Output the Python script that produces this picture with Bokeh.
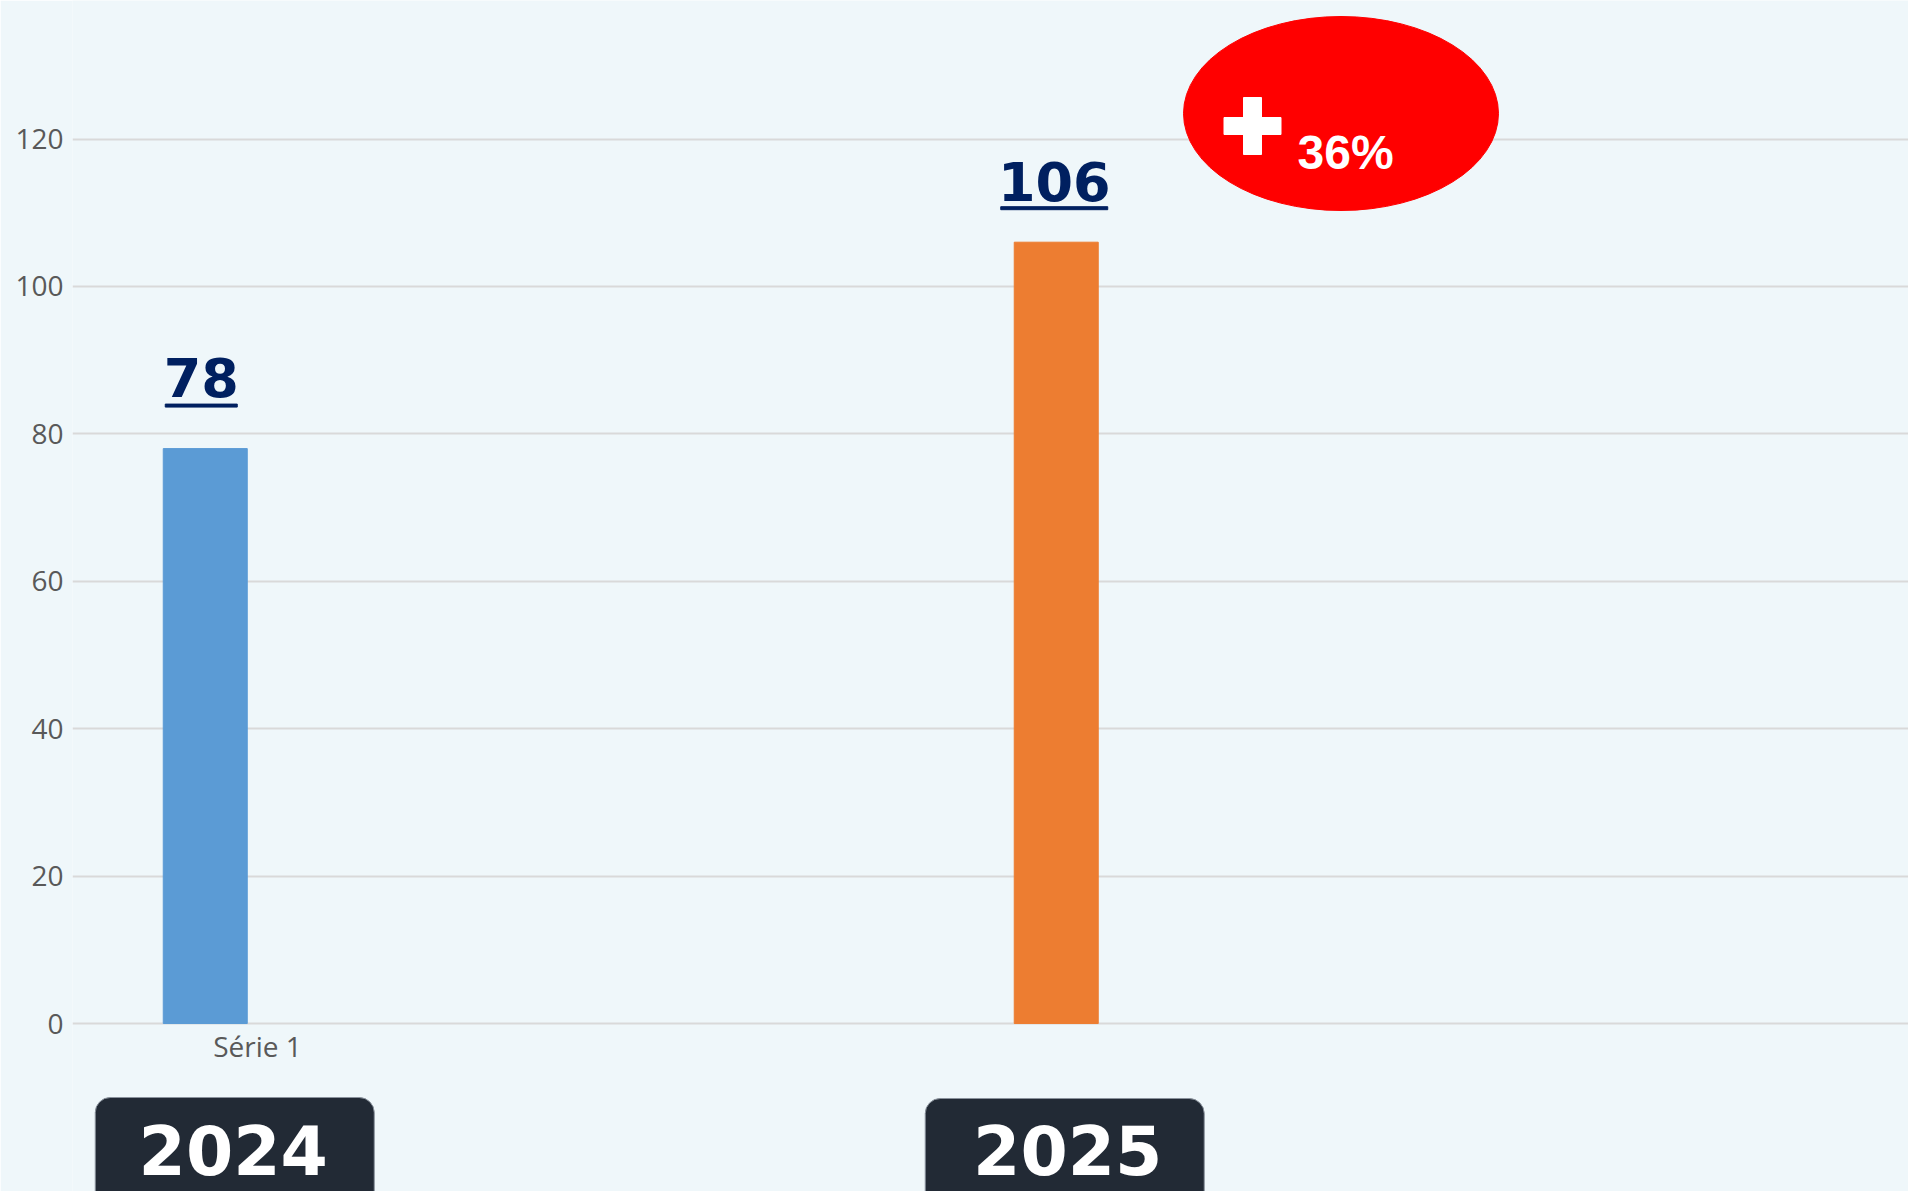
from bokeh.plotting import figure
from bokeh.models import Range1d, FixedTicker, ColumnDataSource
from bokeh.core.properties import value
from bokeh.embed import file_html
from bokeh.resources import INLINE

# ---- data ----
years = ["2024", "2025"]
counts = [78, 106]
series_name = "Série 1"
growth_label = "36%"
y_ticks = [0, 20, 40, 60, 80, 100, 120]

# ---- styles ----
bar_colors = ["#5B9BD5", "#ED7D31"]
label_dx_px = [-4, -2]           # horizontal shift of value labels
label_mid_px = [71, 61]          # label centre height above bar top
uline_px = [43, 34]              # underline height above bar top
uline_w = [72, 107]
box_dx_px = [29.5, 8.5]          # year box shift from bar centre
text_dx_px = [28, 11.5]          # year text shift from bar centre

BG = "#EFF7FA"
FIG_W, FIG_H = 1908, 1191
LEFT = 72
Y0, Y1 = -22.79, 138.79
X0, X1 = 0.344, 2.5015
PXY = FIG_H / (Y1 - Y0)
PXX = (FIG_W - LEFT) / (X1 - X0)


def px_x(px):
    return X0 + (px - LEFT) / PXX


def px_y(py):
    return Y1 - py / PXY


xs = [i + 0.5 for i in range(len(years))]

p = figure(width=FIG_W, height=FIG_H, x_range=Range1d(X0, X1), y_range=Range1d(Y0, Y1),
           output_backend="svg", toolbar_location=None, x_axis_location=None,
           min_border=0, min_border_left=LEFT)
p.background_fill_color = BG
p.border_fill_color = BG
p.outline_line_color = None

# axis & grid
p.yaxis.ticker = FixedTicker(ticks=y_ticks)
p.ygrid.ticker = FixedTicker(ticks=y_ticks)
p.yaxis.axis_line_color = None
p.yaxis.major_tick_line_color = None
p.yaxis.minor_tick_line_color = None
p.yaxis.major_tick_out = 0
p.yaxis.major_tick_in = 0
p.yaxis.minor_tick_out = 0
p.yaxis.major_label_standoff = 9
p.yaxis.major_label_text_font = "Open Sans"
p.yaxis.major_label_text_font_size = "28px"
p.yaxis.major_label_text_color = "#595959"
p.xgrid.visible = False
p.ygrid.grid_line_color = "#D9D9D9"
p.ygrid.grid_line_width = 2

# bars
p.vbar(x=xs, top=counts, width=84 / PXX, color=bar_colors)

# value labels
lab = ColumnDataSource(dict(
    x=[x + d / PXX for x, d in zip(xs, label_dx_px)],
    y=[v + o / PXY for v, o in zip(counts, label_mid_px)],
    uy=[v + o / PXY for v, o in zip(counts, uline_px)],
    uw=uline_w,
    t=[str(v) for v in counts],
))
p.text(x="x", y="y", text="t", source=lab, text_font=value("DejaVu Sans"),
       text_font_style="bold", text_font_size="54px", text_align="center",
       text_baseline="middle", text_color="#002060")
p.rect(x="x", y="uy", width="uw", height=3, source=lab, width_units="screen",
       height_units="screen", color="#002060")

# growth badge
p.ellipse(x=[px_x(1340.5)], y=[px_y(113)], width=315, height=194, width_units="screen",
          height_units="screen", fill_color="#FF0000", line_color="#FF0000")
p.rect(x=[px_x(1252), px_x(1252)], y=[px_y(125.5), px_y(125.5)], width=[18, 57],
       height=[57, 17], width_units="screen", height_units="screen", color="white")
p.text(x=[px_x(1297)], y=[px_y(151.5)], text=[growth_label],
       text_font=value("Liberation Sans"), text_font_style="bold",
       text_font_size="48px", text_align="left", text_baseline="middle",
       text_color="white")

# category label
p.text(x=[px_x(257)], y=[px_y(1045)], text=[series_name], text_font=value("Open Sans"),
       text_font_size="28px", text_align="center", text_baseline="middle",
       text_color="#595959")

# year boxes
half = 139.5 / PXX
bc = [x + d / PXX for x, d in zip(xs, box_dx_px)]
tc = [x + d / PXX for x, d in zip(xs, text_dx_px)]
p.quad(left=[c - half for c in bc], right=[c + half for c in bc],
       top=[px_y(1097), px_y(1098)], bottom=[Y0 - 10, Y0 - 10], fill_color="#222A35",
       line_color="#8A929C", line_width=1, border_radius=15)
p.text(x=tc, y=[px_y(1149), px_y(1149)], text=years, text_font=value("DejaVu Sans"),
       text_font_style="bold", text_font_size="68px", text_align="center",
       text_baseline="middle", text_color="white")

open("out.html", "w").write(file_html(p, INLINE))
